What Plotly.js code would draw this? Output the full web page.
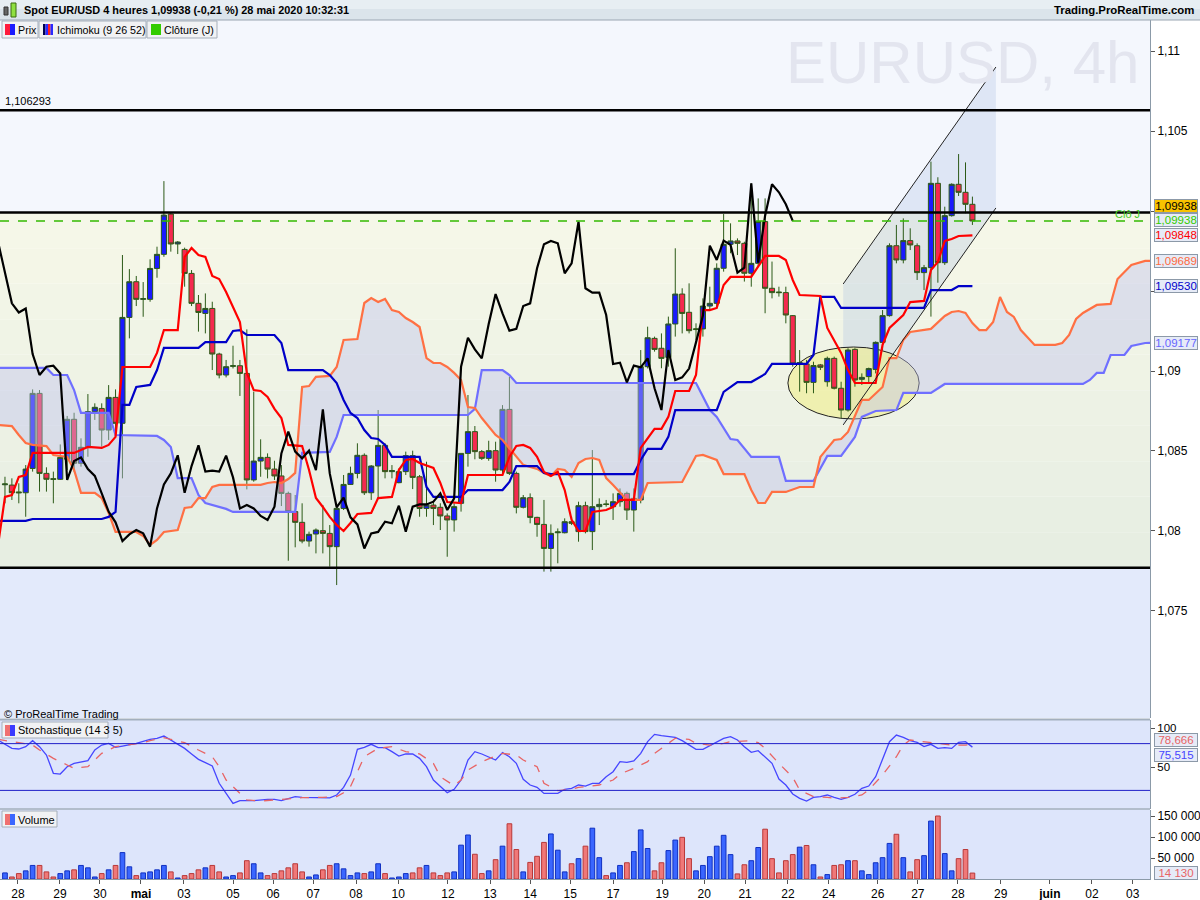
<!DOCTYPE html>
<html><head><meta charset="utf-8">
<script src="https://cdn.plot.ly/plotly-3.0.1.min.js"></script>
<style>html,body{margin:0;padding:0;background:#fff;}#chart{width:1200px;height:900px;}</style>
</head><body><div id="chart"></div>
<script>
// ---------------- DATA ----------------
const candleOpen = [1.08289,1.08287,1.08244,1.08239,1.08391,1.08860,1.08360,1.08327,1.08323,1.08448,
 1.08698,1.08423,1.08523,1.08746,1.08766,1.08631,1.08835,1.08673,1.09335,1.09558,
 1.09448,1.09448,1.09641,1.09729,1.09981,1.09794,1.09760,1.09610,1.09423,1.09360,
 1.09391,1.09106,1.08975,1.09029,1.09033,1.08985,1.08319,1.08437,1.08460,1.08387,
 1.08344,1.08235,1.08121,1.08054,1.07937,1.07981,1.08002,1.07985,1.07902,1.08141,
 1.08291,1.08360,1.08473,1.08239,1.08406,1.08535,1.08371,1.08302,1.08371,1.08471,
 1.08339,1.08141,1.08162,1.08148,1.08094,1.08069,1.08173,1.08485,1.08621,1.08496,
 1.08454,1.08502,1.08381,1.08760,1.08360,1.08148,1.08208,1.08085,1.08041,1.07891,
 1.07989,1.07989,1.08058,1.07996,1.08158,1.07996,1.08152,1.08169,1.08152,1.08183,
 1.08235,1.08131,1.08194,1.09027,1.09204,1.09142,1.09085,1.09294,1.09481,1.09367,
 1.09259,1.09263,1.09406,1.09423,1.09642,1.09792,1.09813,1.09798,1.09611,1.09673,
 1.09934,1.09517,1.09494,1.09490,1.09346,1.09044,1.09044,1.08929,1.09038,1.08933,
 1.09079,1.08892,1.08756,1.09135,1.08948,1.08965,1.09010,1.09179,1.09346,1.09783,
 1.09694,1.09815,1.09783,1.09615,1.09646,1.10173,1.09677,1.09971,1.10167,1.10117,
 1.10042];
const candleHigh = [1.08339,1.08329,1.08298,1.08412,1.08885,1.08881,1.08398,1.08371,1.08541,1.08719,
 1.08739,1.08579,1.08856,1.08798,1.08798,1.08912,1.08885,1.09725,1.09637,1.09594,
 1.09556,1.09698,1.09777,1.10187,1.09989,1.09812,1.09771,1.09631,1.09475,1.09485,
 1.09433,1.09114,1.09069,1.09158,1.09069,1.09260,1.08871,1.08573,1.08485,1.08439,
 1.08412,1.08246,1.08225,1.08173,1.07996,1.08016,1.08162,1.08037,1.08152,1.08350,
 1.08402,1.08548,1.08485,1.08412,1.08756,1.08548,1.08412,1.08391,1.08496,1.08502,
 1.08350,1.08433,1.08183,1.08173,1.08110,1.08173,1.08485,1.08850,1.08656,1.08506,
 1.08564,1.08558,1.08787,1.08964,1.08371,1.08225,1.08235,1.08089,1.08194,1.08041,
 1.08016,1.08079,1.08089,1.08183,1.08183,1.08506,1.08204,1.08194,1.08235,1.08266,
 1.08246,1.08266,1.09131,1.09277,1.09215,1.09235,1.09340,1.09767,1.09517,1.09548,
 1.09298,1.09454,1.09527,1.09673,1.09981,1.09923,1.09829,1.09808,1.10173,1.10079,
 1.10079,1.09684,1.09527,1.09527,1.09350,1.09131,1.09069,1.09058,1.09044,1.09090,
 1.09090,1.08933,1.09142,1.09142,1.08985,1.09021,1.09185,1.09381,1.09798,1.09913,
 1.09954,1.09892,1.09798,1.09663,1.10309,1.10211,1.10027,1.10173,1.10356,1.10304,
 1.10090];
const candleLow = [1.08173,1.08194,1.08173,1.08089,1.08371,1.08246,1.08246,1.08173,1.08319,1.08381,
 1.08371,1.08402,1.08464,1.08694,1.08527,1.08569,1.08610,1.08329,1.09204,1.09406,
 1.09339,1.09433,1.09583,1.09714,1.09746,1.09731,1.09527,1.09406,1.09246,1.09235,
 1.09006,1.08954,1.08960,1.09016,1.08844,1.08260,1.08308,1.08339,1.08329,1.08319,
 1.08156,1.07814,1.07898,1.07923,1.07902,1.07860,1.07860,1.07777,1.07662,1.08131,
 1.08288,1.08329,1.08225,1.08194,1.08204,1.08329,1.08329,1.08298,1.08350,1.08262,
 1.08089,1.08089,1.08037,1.08006,1.07839,1.07996,1.08121,1.08402,1.08448,1.08444,
 1.08439,1.08308,1.08360,1.08350,1.08110,1.08141,1.08048,1.07964,1.07746,1.07746,
 1.07798,1.07985,1.08037,1.07933,1.07985,1.07881,1.08037,1.08152,1.08069,1.08152,
 1.08069,1.07996,1.08173,1.09016,1.09121,1.09017,1.09027,1.09215,1.09235,1.09235,
 1.09194,1.09215,1.09381,1.09392,1.09621,1.09736,1.09725,1.09559,1.09527,1.09652,
 1.09361,1.09454,1.09465,1.09298,1.09027,1.08871,1.08861,1.08861,1.09006,1.08902,
 1.08885,1.08704,1.08746,1.08902,1.08913,1.08923,1.08985,1.09131,1.09340,1.09673,
 1.09673,1.09756,1.09569,1.09506,1.09340,1.09552,1.09663,1.09965,1.10094,1.09986,
 1.09913];
const candleClose = [1.08294,1.08239,1.08239,1.08387,1.08860,1.08360,1.08323,1.08323,1.08460,1.08698,
 1.08423,1.08523,1.08746,1.08773,1.08631,1.08835,1.08673,1.09335,1.09558,1.09448,
 1.09452,1.09641,1.09729,1.09975,1.09794,1.09806,1.09610,1.09423,1.09366,1.09391,
 1.09106,1.08975,1.09027,1.09033,1.08985,1.08319,1.08437,1.08460,1.08387,1.08344,
 1.08235,1.08121,1.08054,1.07937,1.07979,1.08006,1.07985,1.07902,1.08141,1.08291,
 1.08360,1.08473,1.08239,1.08406,1.08535,1.08371,1.08377,1.08371,1.08471,1.08335,
 1.08141,1.08162,1.08141,1.08094,1.08069,1.08152,1.08485,1.08621,1.08496,1.08454,
 1.08502,1.08381,1.08760,1.08360,1.08148,1.08208,1.08085,1.08041,1.07891,1.07985,
 1.07994,1.08058,1.08048,1.08158,1.07996,1.08152,1.08166,1.08166,1.08183,1.08235,
 1.08131,1.08204,1.09027,1.09208,1.09135,1.09079,1.09294,1.09481,1.09360,1.09252,
 1.09263,1.09406,1.09423,1.09642,1.09792,1.09813,1.09798,1.09611,1.09673,1.09934,
 1.09517,1.09490,1.09490,1.09350,1.09044,1.09052,1.08929,1.09034,1.09023,1.09079,
 1.08892,1.08756,1.09131,1.08944,1.08960,1.09015,1.09179,1.09346,1.09783,1.09694,
 1.09815,1.09788,1.09615,1.09646,1.10173,1.09677,1.09971,1.10167,1.10117,1.10042,
 1.09938];
const volume = [14500,4800,12900,19400,32300,32300,16900,4800,12900,19400,
 21800,32300,26600,4800,12900,21800,32300,62900,29000,8100,
 14500,16900,21800,32300,16900,2400,8100,12900,21800,26600,
 32300,16900,4800,8100,14500,43600,36300,14500,8100,12900,
 19400,26600,36300,16900,4800,9700,21800,32300,36300,24200,
 8100,14500,12900,16900,36300,12900,2400,4800,12900,14500,
 26600,32300,14500,8100,14500,16900,80600,104800,58900,12900,
 19400,46000,78200,131500,70200,16900,39500,54000,87100,107300,
 68600,16900,36300,48400,78200,121000,50800,8100,14500,32300,
 38700,65300,116900,72600,19400,38700,67700,92700,99200,48400,
 19400,32300,53200,78200,104000,58100,12100,33900,43600,75000,
 118600,48400,14500,43600,58100,75800,79800,33900,4800,10500,
 32300,33900,43600,43600,19400,10500,38700,50800,84700,106500,
 50800,16900,46000,55600,137900,150000,60500,19400,48400,70200,
 14130];

// Ichimoku lines: bar index and value at each vertex of the drawn polyline
const tenkanIdx = [-1,0,1,2,3,4,10,11,12,14,15,16,17,21,22,23,25,26,27,28,29,30,31,32,33,34,35,36,37,38,39,40,41,43,44,45,46,47,48,49,50,51,53,54,56,57,58,59,60,62,63,64,66,67,72,73,74,75,76,77,78,79,80,81,82,83,84,85,87,88,89,91,92,93,94,95,96,97,99,100,101,102,103,104,105,108,109,110,112,113,114,115,118,119,121,122,123,126,127,128,130,131,133,134,135,136,137,138,140];
const tenkanVal = [1.07913,1.08213,1.08225,1.08338,1.08350,1.08488,1.08488,1.08506,1.08525,1.08519,1.08538,1.08588,1.09025,1.09025,1.09113,1.09256,1.09256,1.09713,1.09769,1.09725,1.09713,1.09594,1.09575,1.09494,1.09400,1.09306,1.08988,1.08881,1.08875,1.08838,1.08763,1.08706,1.08538,1.08531,1.08381,1.08206,1.08150,1.08088,1.08038,1.08000,1.08050,1.08106,1.08113,1.08206,1.08213,1.08381,1.08444,1.08450,1.08425,1.08394,1.08300,1.08181,1.08175,1.08350,1.08350,1.08463,1.08531,1.08538,1.08519,1.08463,1.08369,1.08344,1.08369,1.08256,1.08069,1.08000,1.08000,1.08119,1.08131,1.08150,1.08194,1.08194,1.08519,1.08581,1.08638,1.08638,1.08713,1.08875,1.08875,1.08975,1.09381,1.09381,1.09394,1.09538,1.09588,1.09588,1.09650,1.09719,1.09719,1.09694,1.09569,1.09475,1.09469,1.09269,1.09113,1.09006,1.08925,1.08925,1.09163,1.09269,1.09350,1.09431,1.09438,1.09631,1.09681,1.09813,1.09825,1.09844,1.09848];

const kijunIdx = [-1,3,4,14,15,16,17,18,19,21,22,23,28,29,32,33,34,35,39,40,41,46,47,48,49,50,51,52,53,54,55,56,60,61,62,66,67,72,73,74,77,78,79,91,92,93,95,96,97,103,104,106,108,110,111,116,117,118,120,121,133,134,137,138,140];
const kijunVal = [1.08063,1.08063,1.08075,1.08075,1.08088,1.08119,1.08788,1.08788,1.08900,1.08913,1.09006,1.09144,1.09144,1.09181,1.09181,1.09250,1.09256,1.09225,1.09225,1.09175,1.09006,1.09006,1.08975,1.08925,1.08819,1.08738,1.08706,1.08631,1.08581,1.08575,1.08538,1.08463,1.08463,1.08275,1.08213,1.08213,1.08256,1.08256,1.08306,1.08406,1.08406,1.08363,1.08356,1.08356,1.08444,1.08513,1.08513,1.08588,1.08756,1.08756,1.08869,1.08931,1.08931,1.08981,1.09044,1.09044,1.09100,1.09463,1.09463,1.09394,1.09394,1.09506,1.09506,1.09531,1.09530];

const senkouAIdx = [-1,1,2,3,4,6,7,9,10,11,13,14,15,16,19,20,21,22,23,25,26,27,28,29,30,31,37,38,39,40,41,42,43,44,45,47,48,49,51,52,53,54,55,56,57,58,59,60,61,62,63,64,65,66,67,68,69,70,71,72,73,74,75,76,77,78,79,80,81,82,83,84,85,86,87,88,89,90,92,93,98,100,101,103,104,107,108,109,110,111,113,115,117,118,120,121,122,123,124,125,127,128,129,130,131,134,136,137,138,139,140,141,142,143,144,145,146,147,149,152,153,154,155,156,157,158,160,161,163,164,165,166];
const senkouAVal = [1.08663,1.08656,1.08600,1.08550,1.08538,1.08531,1.08475,1.08463,1.08381,1.08238,1.08238,1.08206,1.08113,1.07994,1.07994,1.07969,1.07913,1.07944,1.07994,1.08006,1.08144,1.08150,1.08206,1.08206,1.08275,1.08288,1.08288,1.08300,1.08306,1.08300,1.08325,1.08363,1.08900,1.08906,1.08963,1.08969,1.09025,1.09194,1.09200,1.09425,1.09456,1.09431,1.09450,1.09381,1.09369,1.09331,1.09306,1.09275,1.09081,1.09050,1.09050,1.09025,1.08988,1.08944,1.08775,1.08769,1.08706,1.08650,1.08600,1.08569,1.08519,1.08469,1.08413,1.08400,1.08388,1.08363,1.08344,1.08388,1.08381,1.08338,1.08425,1.08450,1.08456,1.08444,1.08331,1.08288,1.08238,1.08194,1.08194,1.08300,1.08306,1.08469,1.08475,1.08444,1.08356,1.08356,1.08256,1.08175,1.08175,1.08244,1.08244,1.08275,1.08275,1.08463,1.08569,1.08575,1.08619,1.08725,1.08819,1.08819,1.08900,1.09081,1.09081,1.09194,1.09244,1.09263,1.09344,1.09369,1.09375,1.09363,1.09300,1.09256,1.09256,1.09306,1.09463,1.09369,1.09338,1.09256,1.09163,1.09163,1.09175,1.09225,1.09325,1.09363,1.09388,1.09413,1.09419,1.09575,1.09663,1.09675,1.09688,1.09689];

const senkouBIdx = [-1,6,7,9,10,11,15,16,22,23,24,25,27,28,29,30,31,32,33,42,43,47,48,49,67,68,69,72,73,74,100,102,103,105,106,108,112,113,117,119,121,123,124,126,129,130,134,136,156,157,158,159,160,162,163,165,166];
const senkouBVal = [1.09019,1.09019,1.08975,1.08975,1.08881,1.08738,1.08738,1.08600,1.08594,1.08569,1.08525,1.08331,1.08331,1.08225,1.08175,1.08163,1.08150,1.08138,1.08119,1.08119,1.08488,1.08494,1.08588,1.08725,1.08725,1.08763,1.09006,1.09006,1.08975,1.08925,1.08925,1.08756,1.08713,1.08575,1.08569,1.08463,1.08463,1.08313,1.08313,1.08469,1.08469,1.08588,1.08713,1.08750,1.08756,1.08863,1.08863,1.08919,1.08919,1.08944,1.08988,1.08988,1.09100,1.09100,1.09156,1.09175,1.09177];
const chikouShift = 26;

// Stochastic (14 3 5)
const stochKIdx = [-1,1,2,3,4,5,6,7,8,9,10,12,13,14,15,16,17,18,19,21,22,23,24,26,27,28,29,30,31,33,34,36,38,39,40,41,42,43,45,47,48,49,50,51,52,53,54,55,56,57,58,59,60,61,62,63,64,65,66,67,68,69,70,71,72,73,74,75,76,77,78,80,81,82,83,84,85,86,87,88,89,90,91,92,93,94,95,97,98,99,100,101,102,103,104,105,106,107,108,109,110,111,112,113,114,115,116,117,118,119,120,121,122,123,124,125,126,127,128,129,130,131,132,133,134,135,136,137,138,139,140];
const stochKVal = [84.6,73.9,73.1,76.1,83.8,76.1,65.4,41.9,41.0,50.4,54.7,58.1,71.8,78.2,80.3,75.2,76.9,78.2,80.3,85.5,86.8,89.7,84.6,73.9,66.7,59.8,55.6,51.3,29.1,3.4,6.8,6.8,8.5,8.5,6.8,9.8,12.0,11.1,10.3,10.3,14.1,23.9,39.7,72.6,75.2,79.1,74.8,74.8,69.7,64.1,66.7,66.7,61.1,50.4,33.3,24.8,17.1,21.4,33.3,59.0,69.7,66.7,62.4,59.0,68.4,63.2,54.7,34.2,26.9,23.9,16.2,16.2,21.4,22.6,26.9,25.6,29.1,29.1,37.6,44.0,56.8,56.0,57.7,67.5,82.5,91.9,90.2,88.0,83.8,78.2,72.6,72.6,77.4,82.5,86.8,88.9,84.6,76.1,68.8,70.9,63.2,54.7,34.6,26.9,15.4,9.8,6.4,11.1,12.0,14.1,11.1,8.5,11.1,15.0,22.6,25.6,37.6,59.0,82.5,91.0,88.0,83.8,81.6,76.1,79.1,73.9,74.8,73.9,81.6,82.5,75.515];
const stochDIdx = [-1,1,3,4,5,7,9,10,12,13,14,16,18,20,21,23,24,26,28,30,31,32,34,35,37,39,41,43,46,48,49,50,51,52,54,56,58,60,62,63,65,66,67,69,71,72,74,75,77,78,80,82,83,85,86,88,89,91,93,94,96,97,99,100,102,104,105,108,109,110,112,114,115,117,119,120,122,124,125,127,129,130,131,133,135,137,139,140];
const stochDVal = [85.5,82.5,80.3,78.2,71.8,61.1,52.6,48.3,50.4,59.0,67.5,76.1,78.2,81.2,83.8,87.6,85.5,81.2,71.8,63.2,50.4,33.3,16.2,7.7,6.4,7.7,9.4,10.7,11.1,12.0,17.0,25.0,44.0,63.2,73.9,76.1,69.7,66.7,54.7,37.6,26.0,33.3,46.2,56.8,64.1,67.5,65.4,59.0,50.4,29.1,19.7,21.4,23.9,25.6,26.9,33.3,41.0,48.3,56.8,67.5,80.3,86.8,85.5,80.3,78.2,80.3,82.5,83.8,81.2,73.9,54.7,36.8,20.5,12.0,11.1,9.8,11.1,14.1,20.5,39.7,63.2,78.2,84.6,82.5,80.3,78.2,78.2,78.666];

// Levels and drawings
const highLevel = 1.106293;
const resistanceLevel = 1.0999;
const supportLevel = 1.0777;
const dailyClose = 1.09938;
const channelX = [121.3, 143.4];
const channelUpper = [1.09544, 1.10900];
const channelLower = [1.08663, 1.10019];
const ellipseX = [113.3, 132.3];
const ellipseY = [1.0870, 1.0915];

// Axis labels
const dateTickPos = [1.88,7.96,13.75,19.68,25.9,33.0,38.8,44.6,50.8,56.9,64.1,70.2,76.0,81.8,88.0,95.1,101.2,107.1,113.3,119.2,126.3,132.1,137.9,144.1,151.2,157.3,163.2];
const dateTickText = ['28','29','30','<b>mai</b>','03','05','06','07','08','10','12','13','14','15','17','19','20','21','22','24','26','27','28','29','<b>juin</b>','02','03'];
const priceTicks = [1.075,1.08,1.085,1.09,1.095,1.10,1.105,1.11];
const priceTickText = ['1,075','1,08','1,085','1,09','','','1,105','1,11'];
const stochTicks = [50,100];
const volTicks = [50000,100000,150000];
const volTickText = ['50 000','100 000','150 000'];

// ---------------- BUILD ----------------
const PW = 1150, PB = 879, PH = 859;
const px = v => v / PW;
const py = v => (PB - v) / PH;
const FONT = 'Liberation Sans, Arial, sans-serif';

const candleIndex = candleOpen.map((_, i) => i);
const chikouIdx = [], chikouVal = [];
candleClose.forEach((c, i) => { if (i - chikouShift >= -1) { chikouIdx.push(i - chikouShift); chikouVal.push(c); } });
const isUp = candleClose.map((c, i) => c >= candleOpen[i]);

const data = [
  {type:'scatter', mode:'lines', x:senkouBIdx, y:senkouBVal, line:{color:'#6f6fff', width:2.2}, hoverinfo:'skip'},
  {type:'scatter', mode:'lines', x:senkouAIdx, y:senkouAVal, line:{color:'#ff7043', width:2.2}, fill:'tonexty', fillcolor:'rgba(190,194,238,0.42)', hoverinfo:'skip'},
  {type:'scatter', mode:'lines', x:kijunIdx, y:kijunVal, line:{color:'#0000c8', width:2.2}, hoverinfo:'skip'},
  {type:'scatter', mode:'lines', x:tenkanIdx, y:tenkanVal, line:{color:'#ff0000', width:2.2}, hoverinfo:'skip'},
  {type:'scatter', mode:'lines', x:chikouIdx, y:chikouVal, line:{color:'#000000', width:2.2}, hoverinfo:'skip'},
  {type:'candlestick', x:candleIndex, open:candleOpen, high:candleHigh, low:candleLow, close:candleClose,
   increasing:{line:{color:'#2c5a18', width:1}, fillcolor:'#1a1aff'},
   decreasing:{line:{color:'#2c5a18', width:1}, fillcolor:'#f5294f'},
   whiskerwidth:0, hoverinfo:'skip'},
  {type:'scatter', mode:'lines', x:stochKIdx, y:stochKVal, yaxis:'y2', line:{color:'#4646ff', width:1.3}, hoverinfo:'skip'},
  {type:'scatter', mode:'lines', x:stochDIdx, y:stochDVal, yaxis:'y2', line:{color:'#e86464', width:1.3, dash:'dash'}, hoverinfo:'skip'},
  {type:'bar', x:candleIndex, y:volume, yaxis:'y3', width:0.68,
   marker:{color:isUp.map(u => u ? '#3a66ff' : '#f07878'), line:{color:isUp.map(u => u ? '#1030c0' : '#b83838'), width:1}},
   hoverinfo:'skip'}
];

const shapes = [];
const pxRect = (x0, x1, y0, y1, fill, lineCol) => shapes.push({type:'rect', xref:'paper', yref:'paper',
  x0:px(x0), x1:px(x1), y0:py(y1), y1:py(y0), fillcolor:fill, line:lineCol ? {color:lineCol, width:1} : {width:0}});
shapes.push({type:'rect', xref:'paper', yref:'y', x0:0, x1:1, y0:resistanceLevel, y1:1.11194, fillcolor:'#f4f7fd', line:{width:0}, layer:'below'});
const bandSteps = 10, bandTopCol = [246,248,232], bandBotCol = [230,237,226];
for (let k = 0; k < bandSteps; k++) {
  const t = (k + 0.5) / bandSteps;
  const c = bandTopCol.map((v, j) => Math.round(bandBotCol[j] + (v - bandBotCol[j]) * t));
  shapes.push({type:'rect', xref:'paper', yref:'y', x0:0, x1:1,
    y0:supportLevel + (resistanceLevel - supportLevel) * k / bandSteps,
    y1:supportLevel + (resistanceLevel - supportLevel) * (k + 1) / bandSteps,
    fillcolor:`rgb(${c[0]},${c[1]},${c[2]})`, line:{width:0}, layer:'below'});
}
shapes.push({type:'rect', xref:'paper', yref:'y', x0:0, x1:1, y0:1.06831, y1:supportLevel, fillcolor:'#e3eafb', line:{width:0}, layer:'below'});
shapes.push({type:'path', xref:'x', yref:'y', layer:'below',
  path:`M ${channelX[0]},${channelUpper[0]} L ${channelX[1]},${channelUpper[1]} L ${channelX[1]},${channelLower[1]} L ${channelX[0]},${channelLower[0]} Z`,
  fillcolor:'rgba(165,185,228,0.28)', line:{width:0}});
shapes.push({type:'circle', xref:'x', yref:'y', layer:'below', x0:ellipseX[0], x1:ellipseX[1], y0:ellipseY[0], y1:ellipseY[1],
  fillcolor:'rgba(240,238,140,0.6)', line:{color:'#222', width:1}});
shapes.push({type:'line', xref:'x', yref:'y', x0:channelX[0], x1:channelX[1], y0:channelUpper[0], y1:channelUpper[1], line:{color:'#222', width:1}});
shapes.push({type:'line', xref:'x', yref:'y', x0:channelX[0], x1:channelX[1], y0:channelLower[0], y1:channelLower[1], line:{color:'#222', width:1}});
[highLevel, resistanceLevel, supportLevel].forEach(v => shapes.push({type:'line', xref:'paper', yref:'y', x0:0, x1:1, y0:v, y1:v, line:{color:'#000', width:2.5}}));
shapes.push({type:'line', xref:'paper', yref:'y', x0:0, x1:1, y0:dailyClose, y1:dailyClose, line:{color:'#33bb00', width:1.6, dash:'dash'}});
shapes.push({type:'rect', xref:'paper', yref:'paper', x0:0, x1:1, y0:py(809), y1:py(720), fillcolor:'#dde5fb', line:{width:0}, layer:'below'});
shapes.push({type:'rect', xref:'paper', yref:'paper', x0:0, x1:1, y0:0, y1:py(809), fillcolor:'#dde5fb', line:{width:0}, layer:'below'});
[80, 20].forEach(v => shapes.push({type:'line', xref:'paper', yref:'y2', x0:0, x1:1, y0:v, y1:v, line:{color:'#2020c8', width:1}}));
shapes.push({type:'line', xref:'paper', yref:'paper', x0:0, x1:1, y0:py(719.5), y1:py(719.5), line:{color:'#a3afbd', width:2}});
shapes.push({type:'line', xref:'paper', yref:'paper', x0:0, x1:1, y0:py(809), y1:py(809), line:{color:'#a3afbd', width:1.5}});
// header bar + icon
pxRect(0, 1200, 0, 20, '#dbe4eb');
pxRect(0, 1200, 0, 9, '#e7eef3');
shapes.push({type:'line', xref:'paper', yref:'paper', x0:0, x1:1200/PW, y0:py(20), y1:py(20), line:{color:'#9aa6b2', width:1}});
pxRect(4, 8, 7, 15, '#666', '#333');
pxRect(11, 16, 3, 17, '#8fe040', '#3a6a10');
// legend boxes + icons
pxRect(2, 38, 21, 38, '#f1f2f4', '#a5afba');
pxRect(5, 10, 24, 35, '#ff1a3c'); pxRect(10, 15, 24, 35, '#1a1aff');
pxRect(39, 146, 21, 38, '#f1f2f4', '#a5afba');
pxRect(43, 45.5, 24, 35, '#000050'); pxRect(45.5, 48, 24, 35, '#2a2aff'); pxRect(48, 50.5, 24, 35, '#ff2020'); pxRect(50.5, 53, 24, 35, '#2a2aff');
pxRect(147, 217, 21, 38, '#f1f2f4', '#a5afba');
pxRect(151, 161, 24, 35, '#33cc00');
pxRect(2, 108, 722, 738, '#f1f2f4', '#a5afba');
pxRect(5, 10, 725, 736, '#f07070'); pxRect(10, 15, 725, 736, '#3a3aff');
pxRect(2, 57, 811, 827, '#f1f2f4', '#a5afba');
pxRect(5, 10, 814, 825, '#f07070'); pxRect(10, 15, 814, 825, '#3a66ff');

const ann = [];
const A = o => ann.push(Object.assign({showarrow:false, font:{family:FONT, size:12, color:'#000'}}, o));
const T = (x, y, text, size, color, anchor) => A({xref:'paper', yref:'paper', x:px(x), y:py(y), xanchor:anchor || 'left', yanchor:'middle',
  text:text, font:{family:FONT, size:size, color:color || '#000'}});
T(22, 10, '<b>Spot EUR/USD 4 heures 1,09938 (-0,21 %) 28 mai 2020 10:32:31</b>', 10.9);
T(1196, 10, '<b>Trading.ProRealTime.com</b>', 11.4, '#000', 'right');
T(16, 29.5, 'Prix', 10.7);
T(54.5, 29.5, 'Ichimoku (9 26 52)', 10.7);
T(162, 29.5, 'Clôture (J)', 10.7);
T(16, 730, 'Stochastique (14 3 5)', 11);
T(16, 819.5, 'Volume', 11);
T(3, 101, '1,106293', 11);
T(2, 714, '© ProRealTime Trading', 11);
T(1141, 62, 'EURUSD, 4h', 60, '#e3e5ef', 'right');
A({xref:'paper', yref:'y', x:px(1142), y:1.09982, xanchor:'right', yanchor:'middle', text:'Clô J', font:{family:FONT, size:11, color:'#44cc22'}});
const valBox = (yref, y, text, color, bg) => A({xref:'paper', yref:yref, x:1, xshift:4, y:y, xanchor:'left', yanchor:'middle', text:text,
  width:42, height:12, font:{family:FONT, size:11.5, color:color}, bgcolor:bg || '#e6ebf7', bordercolor:'#8c99a8', borderwidth:1, borderpad:0});
valBox('y', 1.10031, '1,09938', '#000', '#f8c300');
valBox('y', 1.09944, '1,09938', '#33cc00');
valBox('y', 1.09848, '1,09848', '#ff0000');
valBox('y', 1.09689, '1,09689', '#ff6a3d');
valBox('y', 1.09530, '1,09530', '#0000cc');
valBox('y', 1.09177, '1,09177', '#6666ff');
valBox('y2', 84.6, '78,666', '#e86464');
valBox('y2', 66.0, '75,515', '#4646ff');
valBox('y3', volume[volume.length - 1], '14 130', '#e86464');

const axLine = {showline:true, linecolor:'#8b9aa8', linewidth:1, showgrid:false, zeroline:false, ticks:'outside', ticklen:4, tickcolor:'#555',
  tickfont:{family:FONT, size:12, color:'#000'}, fixedrange:true};
const layout = {
  width:1200, height:900, margin:{l:0, r:50, t:20, b:21},
  paper_bgcolor:'#ffffff', plot_bgcolor:'rgba(0,0,0,0)', showlegend:false, hovermode:false,
  separators:', ', font:{family:FONT, size:12, color:'#000'},
  boxgap:0.26, boxgroupgap:0,
  xaxis:Object.assign({}, axLine, {range:[-0.72, 165.7], tickvals:dateTickPos, ticktext:dateTickText, anchor:'y3', rangeslider:{visible:false}}),
  yaxis:Object.assign({}, axLine, {domain:[py(718), 1], range:[1.06831, 1.11194], side:'right', tickvals:priceTicks, ticktext:priceTickText, anchor:'x'}),
  yaxis2:Object.assign({}, axLine, {domain:[py(809), py(720)], range:[-3.85, 110.3], side:'right', tickvals:stochTicks, anchor:'x', tickfont:{family:FONT, size:11.5, color:'#000'}}),
  yaxis3:Object.assign({}, axLine, {domain:[0, py(810)], range:[0, 164300], side:'right', tickvals:volTicks, ticktext:volTickText, anchor:'x'}),
  shapes:shapes, annotations:ann
};
Plotly.newPlot('chart', data, layout, {staticPlot:true, displayModeBar:false});
</script></body></html>
